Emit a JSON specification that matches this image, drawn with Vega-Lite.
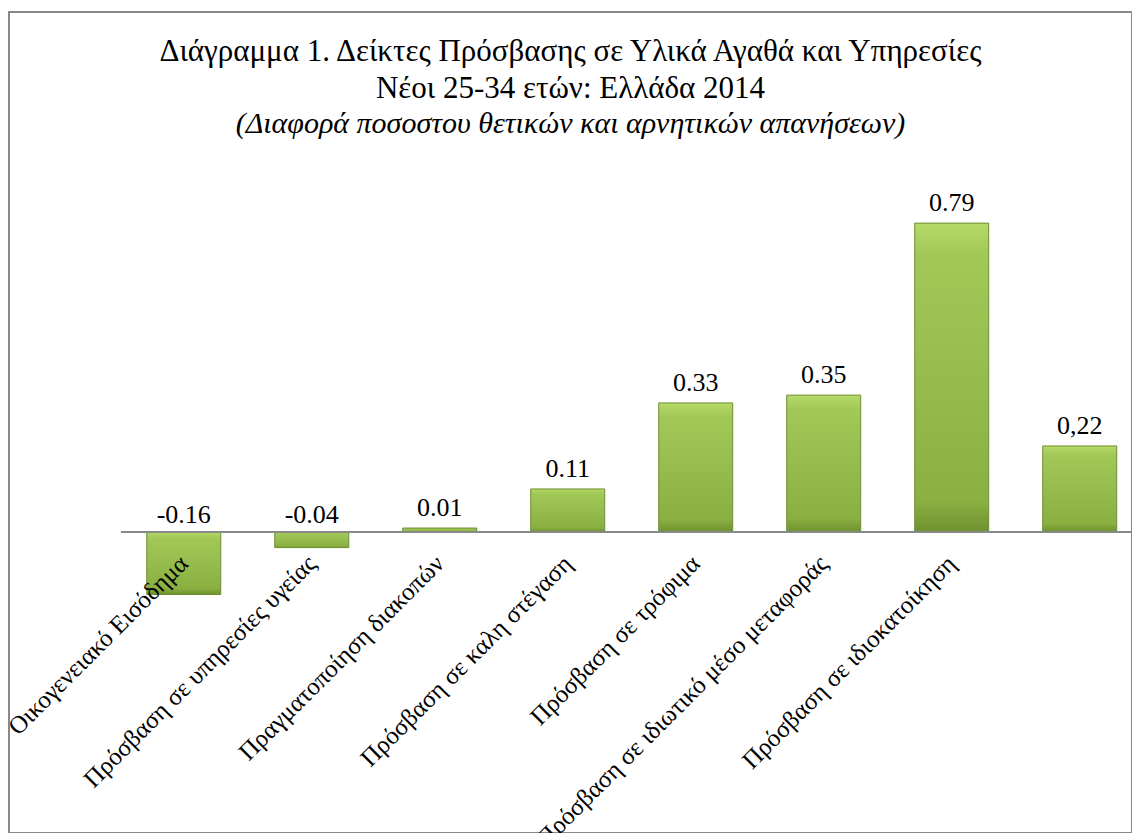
{
  "$schema": "https://vega.github.io/schema/vega-lite/v6.json",
  "autosize": {"type": "none"},
  "padding": {"left": 9, "top": 12, "right": 0, "bottom": 0},
  "width": 1123,
  "height": 821,
  "background": "white",
  "config": {
    "view": {"stroke": "#898989", "strokeWidth": 2},
    "font": "Liberation Serif"
  },
  "title": {
    "text": ["Διάγραμμα 1. Δείκτες Πρόσβασης σε Υλικά Αγαθά και Υπηρεσίες", "Νέοι 25-34 ετών: Ελλάδα 2014"],
    "subtitle": "(Διαφορά ποσοστου θετικών και αρνητικών απανήσεων)",
    "font": "Liberation Serif",
    "fontSize": 31,
    "fontWeight": "normal",
    "color": "black",
    "lineHeight": 37,
    "subtitleFont": "Liberation Serif",
    "subtitleFontSize": 30,
    "subtitleFontStyle": "italic",
    "subtitleColor": "black",
    "subtitlePadding": 4,
    "anchor": "middle",
    "offset": -128
  },
  "data": {
    "values": [
      {"cat": "Οικογενειακό Εισόδημα", "v": -0.16, "label": "-0.16"},
      {"cat": "Πρόσβαση σε υπηρεσίες υγείας", "v": -0.04, "label": "-0.04"},
      {"cat": "Πραγματοποίηση διακοπών", "v": 0.01, "label": "0.01"},
      {"cat": "Πρόσβαση σε καλη στέγαση", "v": 0.11, "label": "0.11"},
      {"cat": "Πρόσβαση σε τρόφιμα", "v": 0.33, "label": "0.33"},
      {"cat": "Πρόσβαση σε ιδιωτικό μέσο μεταφοράς", "v": 0.35, "label": "0.35"},
      {"cat": "Πρόσβαση σε ιδιοκατοίκηση", "v": 0.79, "label": "0.79"},
      {"cat": "", "v": 0.22, "label": "0,22"}
    ]
  },
  "encoding": {
    "x": {
      "field": "cat",
      "type": "nominal",
      "sort": null,
      "scale": {"paddingInner": 0.422, "paddingOuter": 0.598, "align": 0.9},
      "axis": {
        "orient": "bottom",
        "offset": -301,
        "zindex": 1,
        "domain": false,
        "ticks": false,
        "title": null,
        "labelAngle": -45,
        "labelAlign": "right",
        "labelBaseline": "middle",
        "labelPadding": 27,
        "labelFont": "Liberation Serif",
        "labelFontSize": 25,
        "labelColor": "black",
        "labelLimit": 1000,
        "labelOverlap": false
      }
    }
  },
  "layer": [
    {
      "mark": {
        "type": "bar",
        "color": {
          "gradient": "linear",
          "x1": 0, "y1": 0, "x2": 0, "y2": 1,
          "stops": [
            {"offset": 0, "color": "#b6da68"},
            {"offset": 0.1, "color": "#a2c858"},
            {"offset": 0.9, "color": "#8ab042"},
            {"offset": 1, "color": "#6f9130"}
          ]
        },
        "stroke": "#6e8d2f",
        "strokeWidth": 1
      },
      "encoding": {
        "y": {"field": "v", "type": "quantitative", "scale": {"domain": [-0.77, 1.33], "nice": false, "zero": false}, "axis": null},
        "y2": {"datum": 0}
      }
    },
    {
      "data": {"values": [{"a": "Οικογενειακό Εισόδημα", "b": ""}]},
      "mark": {"type": "rule", "color": "#898989", "strokeWidth": 2},
      "encoding": {
        "x": {"field": "a", "type": "nominal", "bandPosition": -0.35},
        "x2": {"field": "b", "bandPosition": 1.3},
        "y": {"datum": 0}
      }
    },
    {
      "transform": [{"filter": "datum.v >= 0"}],
      "mark": {"type": "text", "font": "Liberation Serif", "fontSize": 26, "color": "black", "baseline": "alphabetic", "dy": -12},
      "encoding": {
        "y": {"field": "v", "type": "quantitative"},
        "text": {"field": "label"}
      }
    },
    {
      "transform": [{"filter": "datum.v < 0"}],
      "mark": {"type": "text", "font": "Liberation Serif", "fontSize": 26, "color": "black", "baseline": "alphabetic", "dy": -9},
      "encoding": {
        "y": {"datum": 0},
        "text": {"field": "label"}
      }
    }
  ]
}
